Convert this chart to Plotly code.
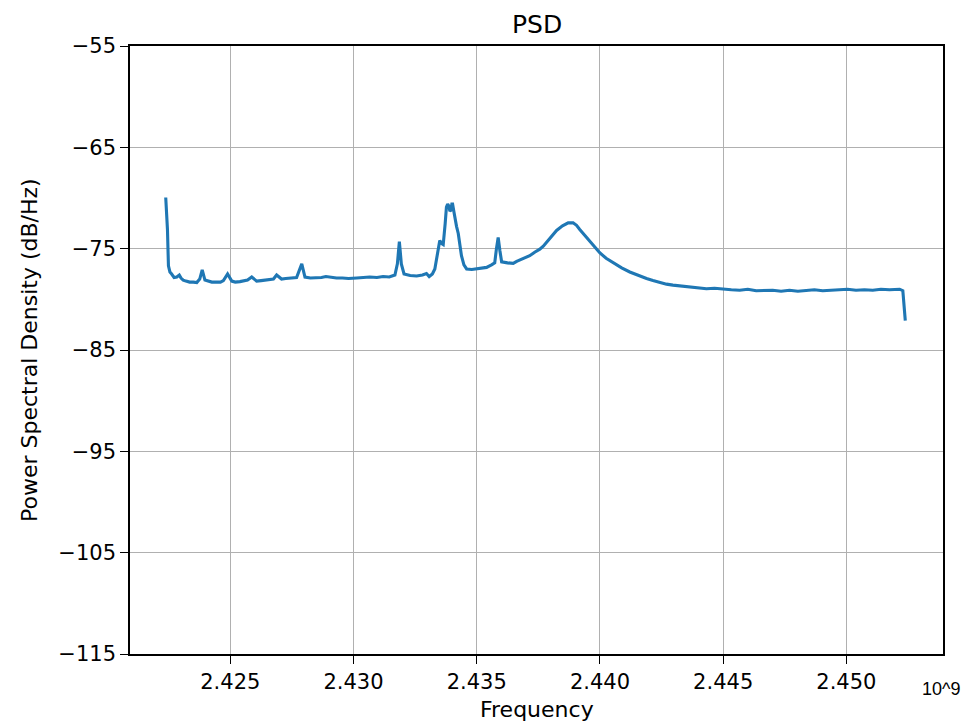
import plotly.graph_objects as go

# Frequency in units of 1e9 Hz
freq = [2.42238, 2.42245, 2.42249, 2.42255, 2.42262, 2.42272, 2.42283, 2.42293, 2.42300, 2.42309,
        2.42320, 2.42335, 2.42350, 2.42364, 2.42376, 2.42386, 2.42397, 2.42410, 2.42425, 2.42445,
        2.42460, 2.42472, 2.42489, 2.42506, 2.42520, 2.42539, 2.42555, 2.42570, 2.42587, 2.42607,
        2.42625, 2.42641, 2.42660, 2.42675, 2.42688, 2.42708, 2.42725, 2.42745, 2.42769, 2.42790,
        2.42803, 2.42825, 2.42850, 2.42870, 2.42888, 2.42910, 2.42931, 2.42955, 2.42980, 2.43013,
        2.43040, 2.43066, 2.43095, 2.43120, 2.43145, 2.43168, 2.43178, 2.43186, 2.43194, 2.43205,
        2.43230, 2.43256, 2.43280, 2.43296, 2.43307, 2.43320, 2.43330, 2.43342, 2.43350, 2.43358,
        2.43364, 2.43372, 2.43377, 2.43382, 2.43387, 2.43391, 2.43395, 2.43399, 2.43402, 2.43407,
        2.43411, 2.43418, 2.43425, 2.43432, 2.43438, 2.43448, 2.43459, 2.43480, 2.43499, 2.43520,
        2.43540, 2.43560, 2.43573, 2.43580, 2.43587, 2.43594, 2.43601, 2.43625, 2.43648, 2.43662,
        2.43675, 2.43695, 2.43715, 2.43735, 2.43756, 2.43770, 2.43783, 2.43804, 2.43824, 2.43848,
        2.43871, 2.43891, 2.43905, 2.43918, 2.43940, 2.43959, 2.43980, 2.43999, 2.44025, 2.44053,
        2.44088, 2.44121, 2.44155, 2.44189, 2.44215, 2.44243, 2.44270, 2.44296, 2.44330, 2.44364,
        2.44398, 2.44432, 2.44465, 2.44499, 2.44533, 2.44567, 2.44600, 2.44634, 2.44667, 2.44701,
        2.44735, 2.44769, 2.44803, 2.44837, 2.44870, 2.44904, 2.44938, 2.44972, 2.45005, 2.45039,
        2.45073, 2.45107, 2.45140, 2.45175, 2.45200, 2.45216, 2.45229, 2.45235, 2.45239]

psd = [-69.95, -73.1, -76.7, -77.3, -77.5, -77.85, -77.8, -77.6, -77.9, -78.1,
       -78.2, -78.3, -78.3, -78.35, -78.0, -77.1, -78.1, -78.2, -78.3, -78.3,
       -78.3, -78.15, -77.5, -78.2, -78.3, -78.25, -78.2, -78.1, -77.8, -78.2,
       -78.15, -78.1, -78.05, -78.0, -77.6, -78.0, -77.95, -77.9, -77.85, -76.5,
       -77.8, -77.9, -77.9, -77.85, -77.75, -77.85, -77.9, -77.9, -77.95, -77.9,
       -77.85, -77.8, -77.85, -77.75, -77.8, -77.6, -76.5, -74.3, -76.5, -77.5,
       -77.65, -77.7, -77.6, -77.45, -77.75, -77.5, -77.0, -75.5, -74.2, -74.5,
       -74.6, -72.5, -70.9, -70.6, -70.8, -71.3, -71.2, -70.6, -70.6, -71.3,
       -71.9, -72.8, -73.5, -74.5, -75.7, -76.6, -77.0, -77.05, -77.0, -76.95,
       -76.85, -76.6, -76.4, -75.0, -73.9, -75.2, -76.3, -76.4, -76.45, -76.25,
       -76.1, -75.95, -75.7, -75.35, -75.05, -74.75, -74.4, -73.8, -73.2, -72.75,
       -72.45, -72.45, -72.7, -73.1, -73.7, -74.25, -74.85, -75.4, -75.95, -76.4,
       -76.9, -77.3, -77.65, -77.95, -78.15, -78.35, -78.5, -78.6, -78.7, -78.75,
       -78.85, -78.95, -78.9, -79.0, -79.05, -79.1, -79.0, -79.15, -79.1, -79.1,
       -79.2, -79.1, -79.2, -79.15, -79.05, -79.15, -79.1, -79.1, -79.0, -79.1,
       -79.05, -79.1, -79.0, -79.05, -79.0, -79.0, -79.15, -80.5, -82.1]

assert len(freq) == len(psd)

x_ticks = [2.425, 2.430, 2.435, 2.440, 2.445, 2.450]
x_tick_labels = ["2.425", "2.430", "2.435", "2.440", "2.445", "2.450"]
y_ticks = [-115, -105, -95, -85, -75, -65, -55]
y_tick_labels = ["\u2212115", "\u2212105", "\u221295", "\u221285", "\u221275", "\u221265", "\u221255"]

W, H = 974, 724
ML, MR, MT, MB = 130, 31, 46, 70
PW = W - ML - MR
PH = H - MT - MB

def px_x(px):
    return (px - ML) / PW

def px_y(py):
    return (H - MB - py) / PH

font = "DejaVu Sans"

fig = go.Figure()
fig.add_trace(go.Scatter(x=freq, y=psd, mode="lines",
                         line=dict(color="#1f77b4", width=3.1),
                         showlegend=False, hoverinfo="skip"))

axis_common = dict(showline=True, linecolor="black", linewidth=1.6, mirror=True,
                   ticks="outside", ticklen=8, tickwidth=1.4, tickcolor="black",
                   showgrid=True, gridcolor="#b0b0b0", gridwidth=1.4,
                   zeroline=False, tickfont=dict(family=font, size=21, color="black"))

fig.update_layout(
    width=W, height=H,
    margin=dict(l=ML, r=MR, t=MT, b=MB),
    paper_bgcolor="white", plot_bgcolor="white",
    xaxis=dict(range=[2.42093, 2.45392], tickvals=x_ticks, ticktext=x_tick_labels, **axis_common),
    yaxis=dict(range=[-115, -55], tickvals=y_ticks, ticktext=y_tick_labels, **axis_common),
    annotations=[
        dict(text="PSD", x=0.5, y=px_y(25), xref="paper", yref="paper",
             xanchor="center", yanchor="middle", showarrow=False,
             font=dict(family=font, size=25, color="black")),
        dict(text="Frequency", x=0.5, y=px_y(709), xref="paper", yref="paper",
             xanchor="center", yanchor="middle", showarrow=False,
             font=dict(family=font, size=22, color="black")),
        dict(text="Power Spectral Density (dB/Hz)", x=px_x(29), y=0.5, xref="paper", yref="paper",
             xanchor="center", yanchor="middle", textangle=-90, showarrow=False,
             font=dict(family=font, size=22, color="black")),
        dict(text="10^9", x=px_x(962), y=px_y(689), xref="paper", yref="paper",
             xanchor="right", yanchor="middle", showarrow=False,
             font=dict(family="Liberation Sans", size=18, color="black")),
    ],
)

fig.write_html("out.html")
